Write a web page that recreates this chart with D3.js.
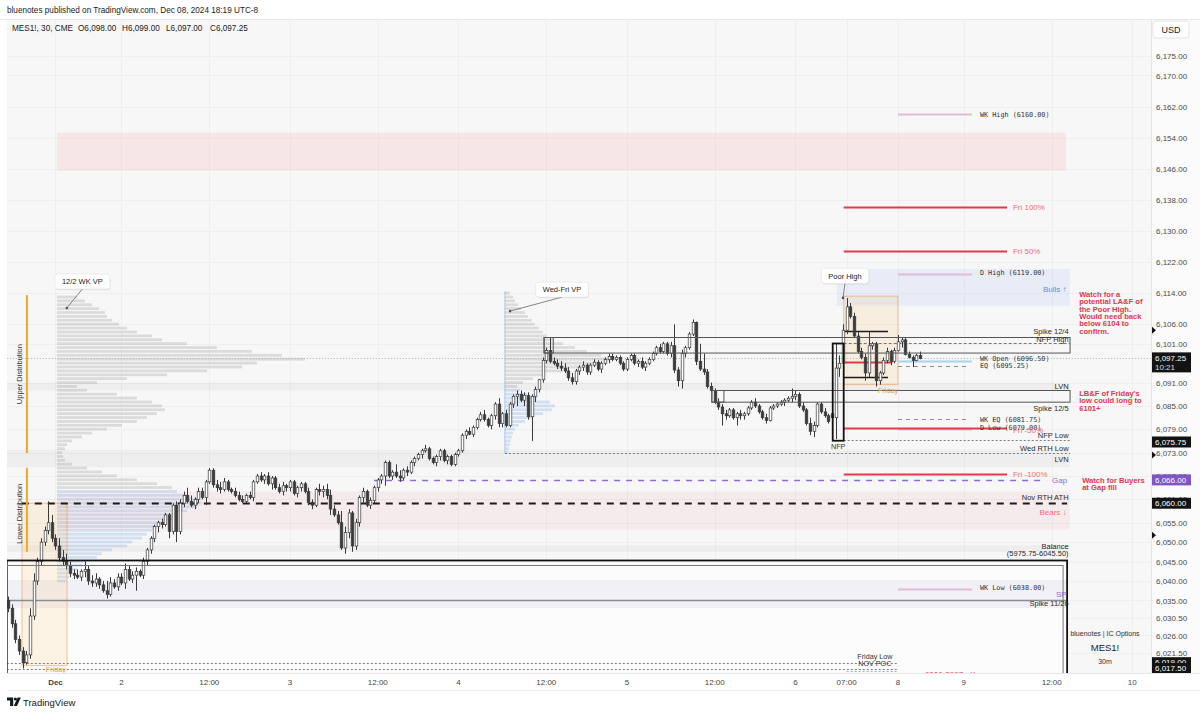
<!DOCTYPE html>
<html>
<head>
<meta charset="utf-8">
<script src="https://cdn.jsdelivr.net/npm/d3@7/dist/d3.min.js"></script>
<style>
html,body{margin:0;padding:0;background:#fff;}
svg text{font-family:"Liberation Sans",Arial,Helvetica,sans-serif;}
svg text.mono{font-family:"DejaVu Sans Mono","Liberation Mono",monospace;}
</style>
</head>
<body>
<svg id="chart" width="1200" height="714"></svg>
<script>
// ================= DATA =================
const firstBar = -13; // bar index of first candle (Dec 1 15:00 session open = 0)
const ohlc = [
[6035,6036,6032,6033],[6033,6034,6028,6029],[6029,6030,6024,6025],[6025,6026,6021,6022],[6022,6023,6017.5,6019],
[6019,6022,6018.5,6021],[6021,6033,6020,6031],[6031,6042,6030,6040],[6040,6046,6039,6045],[6045,6051,6044,6050],
[6050,6054,6049,6053],[6053,6060.5,6052,6055],[6055,6057,6050,6051],
[6051,6052,6048,6049],[6049,6051,6045,6046],[6046,6048,6044,6045],[6045,6047,6043,6044],[6044,6045,6041,6042],
[6042,6043,6040.5,6041.5],[6041.5,6043,6040.5,6041],[6041,6043,6040,6042.5],[6042.5,6045,6041,6043],[6043,6044,6039,6040],
[6040,6041.5,6038.5,6039.5],[6039.5,6042,6038.5,6040.5],[6040.5,6041,6038,6039],[6039,6040,6037,6037.5],[6037.5,6040,6035.5,6036.5],
[6036.5,6041,6036,6039.5],[6039.5,6040.5,6038,6038.5],[6038.5,6042,6037.5,6041],[6041,6042,6039,6039.5],[6039.5,6044.5,6038,6043],
[6043,6044,6040,6040.5],[6040.5,6042.5,6039.5,6041.5],[6041.5,6043.5,6037.5,6042.5],[6042.5,6043,6041,6041.5],[6041.5,6046,6040.5,6045],
[6045,6048.5,6044,6048],[6048,6051.5,6047,6051],[6051,6054.5,6050,6054],[6054,6055.5,6052.5,6055],[6055,6056,6053.5,6054.5],
[6054.5,6057.5,6054,6057],[6057,6057.5,6051,6052.75],[6052.75,6060,6052,6059.5],[6059.5,6060.5,6050,6052.75],[6052.75,6061,6052,6060],
[6060,6063,6059,6062],[6062,6064,6060,6060.5],[6060.5,6062,6059,6059.5],[6059.5,6061.5,6058.5,6061],[6061,6064,6060,6063],
[6063,6064,6061,6061.5],[6061.5,6066,6059.5,6065.5],[6065.5,6069,6065,6068.5],[6068.5,6069,6064,6064.75],[6064.75,6066,6063,6064],
[6064,6065.5,6062.5,6063.5],[6063.5,6066.5,6063,6065.5],[6065.5,6066,6063,6063.5],[6063.5,6064,6062.5,6063],[6063,6064,6061.5,6062],
[6062,6063,6060.5,6061],[6061,6062,6060,6060.5],[6060.5,6062.5,6060,6062],[6062,6063,6061,6061.5],[6061.5,6066,6060.5,6065.5],
[6065.5,6067.5,6065,6067],[6067,6068,6065.5,6066],[6066,6067.5,6065,6067],[6067,6068,6064.5,6065],[6065,6067,6063.5,6066.5],
[6066.5,6067,6063.5,6064],[6064,6065,6062.5,6063],[6063,6065.5,6062,6064.5],[6064.5,6065,6063,6064],[6064,6066,6063,6065.5],
[6065.5,6066,6062,6062.5],[6062.5,6064.5,6061.5,6064],[6064,6065.5,6063,6065],[6065,6065.5,6062.5,6063],[6063,6064,6059.5,6060.25],
[6060.25,6061,6058.5,6059.5],[6059.5,6064,6059,6063.5],[6063.5,6065,6062,6063],[6063,6064.5,6061.5,6063.5],[6063.5,6065,6061,6062],
[6062,6063.5,6057,6058.5],[6058.5,6059.5,6056.5,6057],[6057,6058,6054.5,6055],[6055,6058,6048,6048.5],[6048.5,6054,6047,6052.5],
[6052.5,6058.5,6051,6057.5],[6057.5,6058,6047.5,6049],[6049,6056,6048,6055],[6055,6062,6054,6061.5],[6061.5,6064,6060,6063],
[6063,6063.5,6059,6059.5],[6059.5,6061.5,6058.5,6060.75],[6060.75,6064.5,6060,6064],[6064,6066.5,6063,6066],[6066,6067.5,6065,6067],
[6067,6071,6064.5,6070.5],[6070.5,6071,6066.5,6067],[6067,6068.5,6066,6068],[6068,6070,6066.5,6067],[6067,6068.5,6065.5,6066.5],
[6066.5,6069,6066,6068.5],[6068.5,6069.5,6067,6068],[6068,6071,6067.5,6070.5],[6070.5,6072,6069.5,6071.5],[6071.5,6073,6071,6072.5],
[6072.5,6074,6071.5,6073.5],[6073.5,6075,6073,6074],[6074,6074.5,6071,6071.5],[6071.5,6072,6070,6070.5],[6070.5,6072.5,6069.5,6072],
[6072,6074,6071,6073.5],[6073.5,6074,6070.5,6071],[6071,6072.5,6070,6072],[6072,6072.5,6069.5,6070],[6070,6073,6069.5,6072.5],
[6072.5,6074,6072,6073.5],[6073.5,6078,6073,6077.5],[6077.5,6079,6076.5,6078.5],[6078.5,6079.5,6077.5,6077.75],[6077.75,6080,6077,6079.5],
[6079.5,6082,6079,6081.5],[6081.5,6083.5,6081,6082.75],[6082.75,6084,6081,6081.5],[6081.5,6082,6079.5,6080],[6080,6083,6079,6082.5],
[6082.5,6086,6081.5,6085.5],[6085.5,6087,6079.5,6080.5],[6080.5,6083.5,6079.5,6083],[6083,6084,6079.5,6080],[6080,6086,6079.5,6085.5],
[6085.5,6088,6084.5,6087.5],[6087.5,6089,6085,6088],[6088,6089,6086,6086.5],[6086.5,6088.5,6085,6087.75],[6087.75,6088.5,6081.5,6082.25],
[6082.25,6088,6076,6087.5],[6087.5,6090,6086,6089.25],[6089.25,6092,6088.5,6091.75],[6091.75,6097.5,6091,6096.75],[6096.75,6100,6096,6099.25],
[6099.25,6102.5,6096,6096.5],[6096.5,6097.5,6095.5,6096],[6096,6097,6094.5,6095.25],[6095.25,6096.5,6094,6094.75],[6094.75,6096,6093.5,6094],
[6094,6095,6091.5,6092.25],[6092.25,6093.5,6090.5,6091.25],[6091.25,6094.5,6090.5,6094],[6094,6095.5,6093,6095],[6095,6096.5,6094,6095.5],
[6095.5,6096,6093,6093.75],[6093.75,6096,6093,6095.5],[6095.5,6097,6095,6096.25],[6096.25,6096.75,6094,6094.5],[6094.5,6096.5,6093.5,6096],
[6096,6097.5,6095.5,6097],[6097,6098.5,6096,6097.75],[6097.75,6098.5,6096.5,6097],[6097,6098,6096.5,6097.5],[6097.5,6098,6095.5,6096],
[6096,6096.5,6094,6094.5],[6094.5,6097.5,6094,6097],[6097,6098.5,6096.5,6098],[6098,6098.5,6095.5,6096],[6096,6097,6095,6096.5],
[6096.5,6097.5,6094.5,6095],[6095,6096.5,6094,6096],[6096,6097.5,6095.5,6097],[6097,6099,6096.5,6098.5],[6098.5,6100.5,6098,6100],
[6100,6101,6098.5,6099],[6099,6101.5,6098.5,6101],[6101,6101.5,6098,6098.5],[6098.5,6101.5,6097.5,6100.5],[6100.5,6106,6093.5,6094.25],
[6094.25,6095,6090,6091.5],[6091.5,6099.5,6089.5,6098.5],[6098.5,6100.5,6097.5,6100],[6100,6104,6099.5,6103.5],[6103.5,6107.25,6103,6106.5],
[6106.5,6106.75,6095.5,6096.5],[6096.5,6101,6094,6094.5],[6094.5,6098.5,6093,6093.75],[6093.75,6094.5,6089.5,6090],[6090,6091,6088.5,6089],
[6089,6089.5,6085.5,6086],[6086,6087,6084,6084.75],[6084.75,6085.5,6080,6083],[6083,6084,6081.5,6082.5],[6082.5,6084.5,6082,6084],
[6084,6084.5,6081.5,6082],[6082,6083.5,6080,6083],[6083,6084,6081.5,6082.5],[6082.5,6083.5,6081.5,6083],[6083,6085,6082.5,6084.5],
[6084.5,6086.5,6084,6086],[6086,6087,6084.5,6085],[6085,6085.5,6083,6083.5],[6083.5,6084,6081.5,6082],[6082,6083,6080.5,6081.25],
[6081.25,6085,6081,6084.5],[6084.5,6085.5,6084,6085],[6085,6086,6084.5,6085.5],[6085.5,6086.5,6085,6086],[6086,6087,6085,6086.5],
[6086.5,6087.5,6086,6087],[6087,6089.5,6086,6087.5],[6087.5,6089,6086.5,6088],[6088,6088.5,6084.5,6085],[6085,6086,6083.5,6084],
[6084,6084.5,6080,6080.5],[6080.5,6082,6077.5,6078.5],[6078.5,6081,6077,6080],[6080,6086,6079.5,6085.5],[6085.5,6086,6083,6083.5],
[6083.5,6084.5,6082,6082.5],[6082.5,6083,6080.5,6081],[6083,6083.5,6081.5,6082],[6082,6101,6076.5,6094.75],[6094.75,6098,6092.5,6096],
[6096,6106,6095,6104.5],[6104.5,6112.75,6103.5,6110.5],[6110.5,6111.5,6107.5,6108],[6108,6109,6102.5,6103],[6103,6104,6098.5,6099],
[6099,6100,6097,6097.5],[6097.5,6098.5,6091.5,6093.5],[6093.5,6104,6092.5,6100.5],[6100.5,6101.5,6099.5,6101],[6101,6101.5,6090,6091.5],
[6091.5,6094,6090.5,6093.5],[6093.5,6097.5,6093,6096.75],[6096.75,6100,6096,6099],[6099,6099.5,6095.5,6096.5],[6096.5,6100,6096,6099.25],
[6099.25,6103.25,6099,6101.5],[6101.5,6102.5,6100,6102],[6102,6102.5,6098,6098.25],[6098.25,6099,6097.25,6097.5],[6097.5,6098,6095,6096.75],
[6096.75,6098.5,6096.5,6098],[6098,6099,6097,6097.25]
];

const priceTicks = [6175,6170,6162,6154,6146,6138,6130,6122,6114,6106,6101,6091,6085,6079,6073,6067,6061,6055,6050,6045,6040,6035,6030.5,6026,6021.5];
const timeTickIdx = [0,18,42,64,88,110,134,156,180,202,216,230,248,272,294];
const timeTickLabels = ["Dec","2","12:00","3","12:00","4","12:00","5","12:00","6","07:00","8","9","12:00","10"];

// Volume profiles (one row per point, from top price downward)
const vp1Top = 6113, vp1Start = 0.4, vp1BlueFrom = 6063;
const vp1Vol = [20,28,35,42,48,50,55,62,70,80, 95,105,130,160,195,225,248,200,185,150,
  110,70,40,20,30,60,80,95,105,108, 100,90,80,65,50,35,25,15,10,8,
  5,6,8,15,30,45,60,80,100,115, 120,130,140,145,140,130,120,115,110,100,
  95,90,85,75,70,55,45,40,30,25, 20,15,12,10];
const vp2Top = 6114, vp2Start = 122.7, vp2BlueFrom = 6089;
const vp2Vol = [5,8,10,13,16,20,23,27,30,34, 38,42,48,58,70,82,96,106,92,75,
  58,40,28,18,12,15,22,32,45,50, 47,38,28,20,14,10,8,7,6,5, 4,3];

const bands = [
  {key:"supply", from:0.4, to:275.9, lo:6145.5, hi:6155.25},
  {key:"bulls", from:213.3, to:276.9, lo:6110.75, hi:6120.25},
  {key:"lvn", from:-13.3, to:276.9, lo:6089, hi:6091},
  {key:"lvn", from:-13.3, to:276.9, lo:6069.25, hi:6073.75},
  {key:"bears", from:0.4, to:276.9, lo:6053.25, hi:6063},
  {key:"lvn", from:-13.3, to:276.9, lo:6047.5, hi:6049.25},
  {key:"sp", from:-13.3, to:276.2, lo:6033, hi:6040.25}
];

const boxes = [
  {key:"balanceFill", from:-13.3, to:276.2, lo:5975.75, hi:6045.5},
  {key:"friday", from:-9.15, to:3.15, lo:6018.25, hi:6060},
  {key:"friday", from:215.2, to:230, lo:6090.5, hi:6113.25}
];
const outlineBoxes = [
  {key:"spike", from:133.4, to:277, lo:6098.75, hi:6102.75},
  {key:"spike", from:133.4, to:135.9, lo:6098.75, hi:6102.75},
  {key:"spike", from:179.2, to:277, lo:6086, hi:6089},
  {key:"spike", from:179.2, to:182.5, lo:6086, hi:6089},
  {key:"nfp", from:212.2, to:215.2, lo:6076.25, hi:6101.25},
  {key:"balance", from:-13.3, to:276.2, lo:5975.75, hi:6045.5},
  {key:"balanceInner", from:-13.3, to:275.1, lo:5975.75, hi:6044}
];

const segs = [
  {key:"price", from:-13.3, to:299, p:6097.25},
  {key:"wk", from:230, to:250.2, p:6160},
  {key:"wk", from:230, to:250.2, p:6119},
  {key:"wkopen", from:230, to:250.2, p:6096.5},
  {key:"eq", from:230, to:249.2, p:6095.25},
  {key:"eq", from:230, to:249.2, p:6081.75},
  {key:"wk", from:230, to:250.2, p:6079},
  {key:"wk", from:230, to:250.2, p:6038},
  {key:"fri", from:215.2, to:259.8, p:6136.25},
  {key:"fri", from:215.2, to:259.8, p:6124.75},
  {key:"fri", from:215.2, to:259.8, p:6079.25},
  {key:"fri", from:215.2, to:259.8, p:6067.5},
  {key:"fri", from:215.2, to:228.5, p:6096.25},
  {key:"ib", from:215.2, to:227.3, p:6104.4},
  {key:"ib", from:215.2, to:227.3, p:6092.5},
  {key:"nfpHigh", from:215.2, to:277, p:6101.25},
  {key:"dotted", from:215.2, to:277, p:6076.25},
  {key:"dotted", from:122.7, to:277, p:6073},
  {key:"gap", from:87, to:270.5, p:6066},
  {key:"ath", from:-9.2, to:276.2, p:6060},
  {key:"spikeLine", from:-13.3, to:276.2, p:6035},
  {key:"dotted", from:-13.3, to:230, p:6019},
  {key:"dotted", from:-13.3, to:230, p:6017.5},
  {key:"poc", from:216, to:230, p:6016.9}
];

const distLines = [
  {t:"Upper Distribution", i:-7.8, hi:6113.5, lo:6072.9, mid:6093.2},
  {t:"Lower Distribution", i:-7.8, hi:6069.1, lo:6047.5, mid:6057.3}
];

const rightLabels = [
  {t:"Spike 12/4", p:6104.3},{t:"NFP High", p:6102.2},{t:"LVN", p:6090.1},{t:"Spike 12/5", p:6084.4},
  {t:"NFP Low", p:6077.5},{t:"Wed RTH Low", p:6074.2},{t:"LVN", p:6071.3},{t:"Nov RTH ATH", p:6061.6},
  {t:"Balance", p:6048.8},{t:"(5975.75-6045.50)", p:6047},{t:"Spike 11/26", p:6034.2}
];
const tagLabels = [
  {t:"Bulls \u2191", p:6115.1, key:"bulls"},{t:"Bears \u2193", p:6057.7, key:"bears"},
  {t:"Gap", p:6065.9, key:"gap"},{t:"SP", p:6036.7, key:"sp"}
];
const monoLabels = [
  {t:"WK High (6160.00)", p:6160},{t:"D High (6119.00)", p:6119.3},{t:"WK Open (6096.50)", p:6097.2},
  {t:"EQ (6095.25)", p:6095.4},{t:"WK EQ (6081.75)", p:6081.6},{t:"D Low (6079.00)", p:6079.5},{t:"WK Low (6038.00)", p:6038.2}
];
const friLabels = [
  {t:"Fri 100%", p:6136.25},{t:"Fri 50%", p:6124.75},{t:"Fri -50%", p:6078.9},{t:"Fri -100%", p:6067.5}
];
const smallLabels = [
  {t:"Friday", i:227.3, p:6088.9, key:"orange"},{t:"Friday", i:0.1, p:6017.3, key:"orange"},
  {t:"NFP", i:213.7, p:6074.6, key:"dark"},{t:"Friday Low", i:223.7, p:6020.6, key:"dark"},
  {t:"NOV POC", i:223.7, p:6018.7, key:"dark"}
];
const notes = [
  {i:279.5, p:6113.1, lines:["Watch for a","potential LA&F of","the Poor High.","Would need back","below 6104 to","confirm."]},
  {i:279.5, p:6087.6, lines:["LB&F of Friday's","low could long to","6101+"]},
  {i:280.3, p:6065.3, lines:["Watch for Buyers","at Gap fill"]}
];
const callouts = [
  {t:"12/2 WK VP", i:3.1, p:6110.2},
  {t:"Wed-Fri VP", i:124.1, p:6109.4},
  {t:"Poor High", i:215.0, p:6112.8}
];
const axisMarkers = [6104.5, 6072.4, 6051.8];
const axisTags = [
  {p:6075.75, t:"6,075.75", key:"black"},{p:6066, t:"6,066.00", key:"purple"},
  {p:6060, t:"6,060.00", key:"black"},{p:6019, t:"6,019.00", key:"black"},{p:6017.5, t:"6,017.50", key:"black"}
];
const lastPrice = 6097.25, lastPriceTimer = "10:21";

// ================= LAYOUT / SCALES =================
const PL = 7, PR = 1151, PT = 20, PB = 673;
const x = d3.scaleLinear().domain([-13.24, 299.1]).range([PL, PR]);
const y = d3.scaleLinear().domain([6184.26, 6014.29]).range([20, 681]);
const vpW = d3.scaleLinear().domain([0, 100]).range([0, 100]);
const fmt = d3.format(",.2f");

const svg = d3.select("#chart");
svg.append("rect").attr("width",1200).attr("height",714).attr("fill","#fff");
svg.append("defs").append("clipPath").attr("id","clip")
  .append("rect").attr("x",PL).attr("y",PT).attr("width",PR-PL).attr("height",PB-PT);

// plot bg
svg.append("rect").attr("x",PL).attr("y",PT).attr("width",PR-PL).attr("height",PB-PT).attr("fill","#f7f7f7");
const g = svg.append("g").attr("clip-path","url(#clip)");

// grid
g.selectAll("line.hg").data(priceTicks).join("line")
  .attr("x1",PL).attr("x2",PR).attr("y1",d=>Math.round(y(d))+0.5).attr("y2",d=>Math.round(y(d))+0.5)
  .attr("stroke","#efefef").attr("stroke-width",1);
g.selectAll("line.vg").data(timeTickIdx).join("line")
  .attr("y1",PT).attr("y2",PB).attr("x1",d=>Math.round(x(d))+0.5).attr("x2",d=>Math.round(x(d))+0.5)
  .attr("stroke","#efefef").attr("stroke-width",1);

// bands
const bandFill = {supply:"rgba(242,54,69,0.085)", bulls:"rgba(41,98,255,0.07)", lvn:"rgba(0,0,0,0.035)",
  bears:"rgba(242,54,69,0.06)", sp:"rgba(149,117,205,0.09)"};
const boxFill = {balanceFill:"#fcfcfc", friday:"rgba(255,152,0,0.09)"};
g.selectAll("rect.box").data(boxes.filter(b=>b.key==="balanceFill")).join("rect")
  .attr("x",d=>x(d.from)).attr("width",d=>x(d.to)-x(d.from)).attr("y",d=>y(d.hi)).attr("height",d=>y(d.lo)-y(d.hi))
  .attr("fill",d=>boxFill[d.key]);
g.selectAll("rect.band").data(bands).join("rect")
  .attr("x",d=>x(d.from)).attr("width",d=>x(d.to)-x(d.from)).attr("y",d=>y(d.hi)).attr("height",d=>y(d.lo)-y(d.hi))
  .attr("fill",d=>bandFill[d.key]);

// volume profiles
function drawVP(top, start, vols, blueFrom){
  const rows = vols.map((v,k)=>({p:top-k, v}));
  g.append("g").selectAll("rect").data(rows).join("rect")
    .attr("x",x(start)).attr("y",d=>y(d.p+0.5)+0.4)
    .attr("width",d=>vpW(d.v)).attr("height",d=>y(d.p-0.5)-y(d.p+0.5)-1.1)
    .attr("fill",d=>d.p<=blueFrom?"rgba(110,160,225,0.26)":"rgba(140,140,140,0.26)");
}
drawVP(vp1Top, vp1Start, vp1Vol, vp1BlueFrom);
drawVP(vp2Top, vp2Start, vp2Vol, vp2BlueFrom);
// VP left edge line
g.append("line").attr("x1",x(vp2Start)).attr("x2",x(vp2Start)).attr("y1",y(vp2Top+0.5)).attr("y2",y(6073))
  .attr("stroke","rgba(110,160,225,0.5)").attr("stroke-width",1);

// friday boxes
g.selectAll("rect.fri").data(boxes.filter(b=>b.key==="friday")).join("rect")
  .attr("x",d=>x(d.from)).attr("width",d=>x(d.to)-x(d.from)).attr("y",d=>y(d.hi)).attr("height",d=>y(d.lo)-y(d.hi))
  .attr("fill",boxFill.friday).attr("stroke","rgba(235,150,70,0.55)").attr("stroke-width",1);

// level segments
const segStyle = {
  price:{s:"#a9acb3", w:1, d:"1,2"}, wk:{s:"#dfbad9", w:1.8}, wkopen:{s:"#a6d2ea", w:1.8},
  eq:{s:"#8a8a8a", w:1, d:"4,4"}, fri:{s:"#e03a4b", w:2}, ib:{s:"#1c1c1c", w:1.6},
  nfpHigh:{s:"#777", w:1, d:"3,2"}, dotted:{s:"#7c7c7c", w:1, d:"2,2"}, gap:{s:"#8e6bd0", w:1.6, d:"6,6"},
  ath:{s:"#1c1c1c", w:2, d:"7,6"}, spikeLine:{s:"#8c8c8c", w:1.5}, poc:{s:"#8fb8e8", w:1, d:"2,2"}
};
g.selectAll("line.seg").data(segs).join("line")
  .attr("x1",d=>x(d.from)).attr("x2",d=>x(d.to))
  .attr("y1",d=>Math.round(y(d.p))+0.5).attr("y2",d=>Math.round(y(d.p))+0.5)
  .attr("stroke",d=>segStyle[d.key].s).attr("stroke-width",d=>segStyle[d.key].w)
  .attr("stroke-dasharray",d=>segStyle[d.key].d||null);

// distribution markers
g.selectAll("line.dist").data(distLines).join("line")
  .attr("x1",d=>x(d.i)).attr("x2",d=>x(d.i)).attr("y1",d=>y(d.hi)).attr("y2",d=>y(d.lo))
  .attr("stroke","#f5a623").attr("stroke-width",2);
g.selectAll("text.dist").data(distLines).join("text")
  .attr("transform",d=>`translate(${x(d.i)-5},${y(d.mid)}) rotate(-90)`)
  .attr("text-anchor","middle").attr("font-size",7.5).attr("fill","#333").text(d=>d.t);

// candles
const bars = ohlc.map((d,k)=>({i:firstBar+k, o:d[0], h:d[1], l:d[2], c:d[3]}));
const bw = 2.6;
const cg = g.append("g");
cg.selectAll("line.wick").data(bars).join("line")
  .attr("x1",d=>Math.round(x(d.i))+0.5).attr("x2",d=>Math.round(x(d.i))+0.5)
  .attr("y1",d=>y(d.h)).attr("y2",d=>y(d.l)).attr("stroke","#3a3a3a").attr("stroke-width",1);
cg.selectAll("rect.body").data(bars).join("rect")
  .attr("x",d=>Math.round(x(d.i))+0.5-bw/2).attr("width",bw)
  .attr("y",d=>y(Math.max(d.o,d.c))).attr("height",d=>Math.max(0.8,Math.abs(y(d.o)-y(d.c))))
  .attr("fill",d=>d.c>=d.o?"#ffffff":"#3a3a3a").attr("stroke","#3a3a3a").attr("stroke-width",0.7);

// outline boxes
const obStyle = {spike:{s:"#555", w:1}, nfp:{s:"#111", w:1.8}, balance:{s:"#111", w:1.8}, balanceInner:{s:"#777", w:1}};
g.selectAll("rect.ob").data(outlineBoxes).join("rect")
  .attr("x",d=>x(d.from)).attr("width",d=>x(d.to)-x(d.from)).attr("y",d=>Math.round(y(d.hi))+0.5).attr("height",d=>y(d.lo)-y(d.hi))
  .attr("fill","none").attr("stroke",d=>obStyle[d.key].s).attr("stroke-width",d=>obStyle[d.key].w);

// labels
const LX = x(276.6);
g.selectAll("text.rl").data(rightLabels).join("text")
  .attr("x",LX).attr("y",d=>y(d.p)).attr("dy","0.35em").attr("text-anchor","end")
  .attr("font-size",7.5).attr("fill","#2a2a2a").text(d=>d.t);
const tagColor = {bulls:"#5a8fe6", bears:"#e4707c", gap:"#8e6bd0", sp:"#8e6bd0"};
g.selectAll("text.tag").data(tagLabels).join("text")
  .attr("x",d=>d.key==="gap"?x(276.2):LX-2).attr("y",d=>y(d.p)).attr("dy","0.35em").attr("text-anchor","end")
  .attr("font-size",8).attr("fill",d=>tagColor[d.key]).text(d=>d.t);
g.selectAll("text.mono").data(monoLabels).join("text").attr("class","mono")
  .attr("x",x(252.4)).attr("y",d=>y(d.p)).attr("dy","0.35em")
  .attr("font-size",6.8).attr("fill","#333").text(d=>d.t);
g.selectAll("text.fri").data(friLabels).join("text")
  .attr("x",x(261.4)).attr("y",d=>y(d.p)).attr("dy","0.35em")
  .attr("font-size",8).attr("fill","#ee6d79").text(d=>d.t);
const smallColor = {orange:"#e59a55", dark:"#333"};
g.selectAll("text.sm").data(smallLabels).join("text")
  .attr("x",d=>x(d.i)).attr("y",d=>y(d.p)).attr("dy","0.35em").attr("text-anchor","middle")
  .attr("font-size",7.2).attr("fill",d=>smallColor[d.key]).text(d=>d.t);
g.append("text").attr("x",x(236.1)).attr("y",y(6015.4)).attr("font-size",8).attr("fill","#e03a4b").text("~6006-5997 - Key");

// callouts
const calloutOffset = {"12/2 WK VP":[15.5,-26.5], "Wed-Fri VP":[52,-21.5], "Poor High":[2,-22]};
callouts.forEach(c=>{
  const ax = x(c.i), ay = y(c.p), off = calloutOffset[c.t];
  const cx = ax+off[0], cy = ay+off[1];
  const cgp = svg.append("g");
  const t = cgp.append("text").attr("x",cx).attr("y",cy).attr("dy","0.35em").attr("text-anchor","middle")
    .attr("font-size",7.5).attr("fill","#222").text(c.t);
  const w = t.node().getComputedTextLength()+14, h = 15;
  cgp.insert("line","text").attr("x1",cx).attr("y1",cy+h/2).attr("x2",ax).attr("y2",ay).attr("stroke","#666").attr("stroke-width",0.8);
  cgp.insert("circle","text").attr("cx",ax).attr("cy",ay).attr("r",1.3).attr("fill","#555");
  cgp.insert("rect","text").attr("x",cx-w/2+0.6).attr("y",cy-h/2+1.2).attr("width",w).attr("height",h).attr("rx",3)
    .attr("fill","rgba(0,0,0,0.08)");
  cgp.insert("rect","text").attr("x",cx-w/2).attr("y",cy-h/2).attr("width",w).attr("height",h).attr("rx",3)
    .attr("fill","#fff").attr("stroke","#e2e2e2").attr("stroke-width",0.6);
});

// notes
notes.forEach(n=>{
  const t = svg.append("text").attr("x",x(n.i)).attr("y",y(n.p)).attr("font-size",7.6).attr("font-weight","bold").attr("fill","#e0384d");
  n.lines.forEach((ln,k)=>t.append("tspan").attr("x",x(n.i)).attr("y",y(n.p)+k*7.4).text(ln));
});

// bottom right watermark
svg.append("text").attr("x",1105).attr("y",636).attr("text-anchor","middle").attr("font-size",7).attr("fill","#333").text("bluenotes | IC Options");
svg.append("text").attr("x",1105).attr("y",651).attr("text-anchor","middle").attr("font-size",9.5).attr("fill","#222").text("MES1!");
svg.append("text").attr("x",1105).attr("y",664).attr("text-anchor","middle").attr("font-size",7).attr("fill","#333").text("30m");

// ================= AXES =================
svg.append("rect").attr("x",PR).attr("y",PT).attr("width",1200-PR).attr("height",PB-PT).attr("fill","#fbfbfb");
svg.append("line").attr("x1",PR+0.5).attr("x2",PR+0.5).attr("y1",PT).attr("y2",690).attr("stroke","#e6e6e6");
const yAxis = d3.axisRight(y).tickValues(priceTicks).tickFormat(d=>fmt(d)).tickSize(0).tickPadding(5);
const ya = svg.append("g").attr("transform",`translate(${PR},0)`).call(yAxis);
ya.select(".domain").remove();
ya.selectAll("text").attr("font-size",8).attr("fill","#4a4a4a").attr("font-family","Liberation Sans, Arial, sans-serif");

// axis markers
svg.selectAll("path.mk").data(axisMarkers).join("path")
  .attr("d",d=>`M${PR+1},${y(d)-3.5}L${PR+5},${y(d)}L${PR+1},${y(d)+3.5}Z`).attr("fill","#111");

// axis tags
const tagFill = {black:"#131313", purple:"#7e57c2"};
axisTags.forEach(a=>{
  svg.append("rect").attr("x",PR+1).attr("y",y(a.p)-5.5).attr("width",39).attr("height",11).attr("fill",tagFill[a.key]);
  svg.append("text").attr("x",PR+4).attr("y",y(a.p)).attr("dy","0.35em").attr("font-size",8).attr("fill","#fff").text(a.t);
});
svg.append("rect").attr("x",PR+1).attr("y",y(lastPrice)-6).attr("width",39).attr("height",20).attr("fill","#131313");
svg.append("text").attr("x",PR+4).attr("y",y(lastPrice)).attr("dy","0.35em").attr("font-size",8).attr("fill","#fff").text(fmt(lastPrice));
svg.append("text").attr("x",PR+4).attr("y",y(lastPrice)+9).attr("dy","0.35em").attr("font-size",8).attr("fill","#ddd").text(lastPriceTimer);

// USD button
svg.append("rect").attr("x",1153).attr("y",21).attr("width",36).attr("height",17).attr("rx",3).attr("fill","#fff").attr("stroke","#e3e3e3");
svg.append("text").attr("x",1171).attr("y",29.5).attr("dy","0.35em").attr("text-anchor","middle").attr("font-size",9).attr("fill","#222").text("USD");

// time axis
svg.append("rect").attr("x",0).attr("y",PB).attr("width",1200).attr("height",17).attr("fill","#fff");
svg.append("line").attr("x1",PL).attr("x2",1200).attr("y1",PB+0.5).attr("y2",PB+0.5).attr("stroke","#e6e6e6");
svg.append("line").attr("x1",PL).attr("x2",1200).attr("y1",690.5).attr("y2",690.5).attr("stroke","#eeeeee");
svg.selectAll("text.tt").data(timeTickIdx).join("text")
  .attr("x",d=>x(d)).attr("y",682).attr("dy","0.35em").attr("text-anchor","middle")
  .attr("font-size",8).attr("font-weight",(d,k)=>timeTickLabels[k]==="Dec"?"bold":"normal")
  .attr("fill","#444").text((d,k)=>timeTickLabels[k]);

// header
svg.append("rect").attr("x",0).attr("y",0).attr("width",1200).attr("height",PT).attr("fill","#fff");
svg.append("line").attr("x1",0).attr("x2",1200).attr("y1",19.5).attr("y2",19.5).attr("stroke","#e8e8e8");
svg.append("text").attr("x",7).attr("y",13).attr("font-size",8.2).attr("fill","#222")
  .text("bluenotes published on TradingView.com, Dec 08, 2024 18:19 UTC-8");
svg.append("text").attr("x",12).attr("y",31).attr("font-size",8.2).attr("fill","#222").text("MES1!, 30, CME");
const ohlcLegend = ["O6,098.00","H6,099.00","L6,097.00","C6,097.25"];
const legendX = [78,122,166,210];
ohlcLegend.forEach((s,k)=>svg.append("text").attr("x",legendX[k]).attr("y",31).attr("font-size",8.2).attr("fill","#222").text(s));

// footer logo
svg.append("path").attr("d","M7,697.5h6.2v8.5h-3.1v-5.4h-3.1z").attr("fill","#131722");
svg.append("circle").attr("cx",15.4).attr("cy",699).attr("r",1.5).attr("fill","#131722");
svg.append("path").attr("d","M17.6,697.5h3.2l-3.8,8.5h-3.2z").attr("fill","#131722");
svg.append("text").attr("x",23).attr("y",705.5).attr("font-size",9.5).attr("fill","#131722").text("TradingView");
</script>
</body>
</html>
